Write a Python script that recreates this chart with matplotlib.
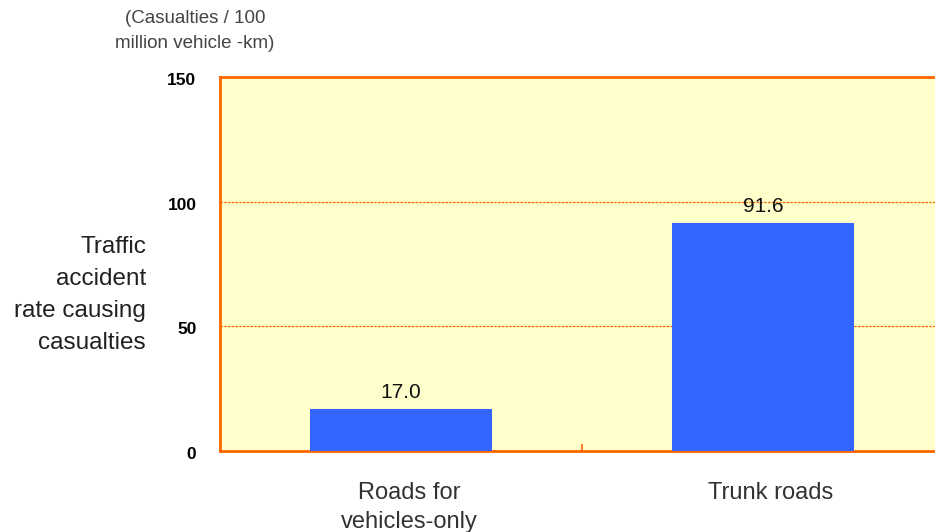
import numpy as np
import matplotlib.pyplot as plt
from matplotlib.transforms import ScaledTranslation

categories = ["Roads for\nvehicles-only", "Trunk roads"]
values = [17.0, 91.6]
yticks = [0, 50, 100, 150]

orange = "#FF6600"
plt.rcParams['font.family'] = ['Liberation Sans', 'DejaVu Sans']

fig = plt.figure(figsize=(9.35, 5.32), dpi=100)
# axes runs past the right edge of the picture, as in the original
ax = fig.add_axes([220/935, 1 - 451/532, 724/935, 374/532])
ax.set_facecolor("#FFFFCC")

x = np.arange(len(categories))
ax.bar(x, values, width=0.505, color="#3366FF", zorder=3)
for xi, v in zip(x, values):
    ax.annotate(f"{v:.1f}", (xi, v), xytext=(0, 5), textcoords="offset points",
                ha="center", va="bottom", fontsize=15, color="#111111")

ax.set_xlim(-0.5, 1.5)
ax.set_ylim(0, 150)
ax.set_yticks(yticks)
ax.set_yticklabels([str(t) for t in yticks], fontsize=12.5, fontweight="bold")
ax.tick_params(axis="y", length=0, pad=17)
down = ScaledTranslation(0, -2/100, fig.dpi_scale_trans)
for lab in ax.get_yticklabels():
    lab.set_transform(lab.get_transform() + down)

ax.set_xticks(x)
ax.set_xticklabels(categories, fontsize=17, color="#333333", linespacing=1.45)
ax.tick_params(axis="x", which="major", length=0, pad=22)
shift = ScaledTranslation(8/100, 0, fig.dpi_scale_trans)
for lab in ax.get_xticklabels():
    lab.set_transform(lab.get_transform() + shift)
ax.set_xticks([0.5], minor=True)
ax.tick_params(axis="x", which="minor", direction="in", length=5, width=1.2, color=orange)

ax.yaxis.grid(True, color=orange, linestyle=(0, (2, 1)), linewidth=0.9, zorder=1)
for s in ax.spines.values():
    s.set_color(orange)
    s.set_linewidth(2)

fig.text(146/935, 1 - 295/532, "Traffic\naccident\nrate causing\ncasualties",
         ha="right", va="center", fontsize=17.5, linespacing=1.58, color="#222222")
fig.text(195/935, 1 - 31/532, "(Casualties / 100\nmillion vehicle -km)",
         ha="center", va="center", fontsize=13.5, linespacing=1.62, color="#444444")

fig.savefig("out.png", dpi=100)
